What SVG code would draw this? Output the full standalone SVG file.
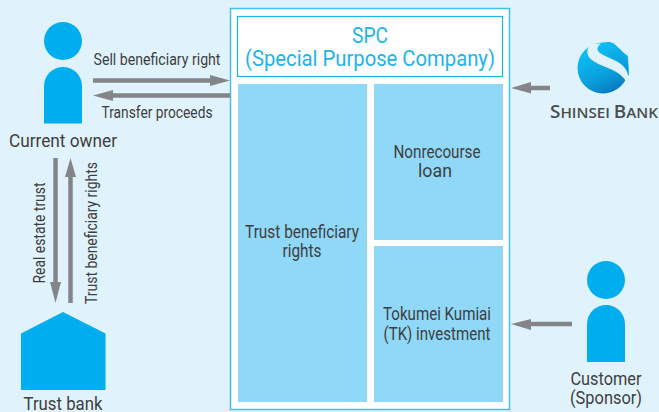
<svg xmlns="http://www.w3.org/2000/svg" width="659" height="412" viewBox="0 0 659 412">
<style>
text{font-family:"Roboto","Liberation Sans",sans-serif;fill:#3e3e40;text-anchor:middle}
.s{font-size:16px}
.m{font-size:17.500px}
.k{font-size:18.500px}
.b{font-size:22px;fill:#1cb4ec}
.l{stroke:#848589;stroke-width:4.500;fill:none}
.h{fill:#848589;stroke:none}
.p{fill:#00aeef}
.c{fill:#8fd8f8}
</style>
<defs>
<linearGradient id="g" x1="0.25" y1="0.1" x2="0.7" y2="1"><stop offset="0" stop-color="#0cc0f4"/><stop offset="0.6" stop-color="#0a9edd"/><stop offset="1" stop-color="#0878bc"/></linearGradient>
</defs>
<rect width="659" height="412" fill="#e0f3fd"/>
<g id="spc-frame"><rect x="230.500" y="8.500" width="279" height="401" fill="#fff" stroke="#3cc3f2" stroke-width="1.500"/></g>
<g id="spc"><rect x="237.500" y="16.500" width="265" height="60" fill="#fff" stroke="#1cb4ec" stroke-width="1.200"/>
<text class="b" x="370" y="42.500" textLength="36" lengthAdjust="spacingAndGlyphs">SPC</text><text class="b" x="370" y="66" textLength="250" lengthAdjust="spacingAndGlyphs">(Special Purpose Company)</text></g>
<g id="trust-rights"><rect class="c" x="238" y="84" width="129" height="318"/><text class="m" x="302" y="238" textLength="114" lengthAdjust="spacingAndGlyphs">Trust beneficiary</text><text class="m" x="302" y="257" textLength="39" lengthAdjust="spacingAndGlyphs">rights</text></g>
<g id="loan"><rect class="c" x="374" y="84" width="129" height="156"/><text class="m" x="437" y="158" textLength="87" lengthAdjust="spacingAndGlyphs">Nonrecourse</text><text class="m" x="435" y="177" textLength="34" lengthAdjust="spacingAndGlyphs">loan</text></g>
<g id="tk"><rect class="c" x="374" y="246" width="129" height="156"/><text class="m" x="437" y="320" textLength="108" lengthAdjust="spacingAndGlyphs">Tokumei Kumiai</text><text class="m" x="437" y="340" textLength="107" lengthAdjust="spacingAndGlyphs">(TK) investment</text></g>
<g id="current-owner"><circle class="p" cx="63" cy="41" r="19"/><path class="p" d="M44 123.500V86a19 19 0 0 1 38 0V123.500Z"/><text class="k" x="63" y="147" textLength="108" lengthAdjust="spacingAndGlyphs">Current owner</text></g>
<g id="trust-bank"><path class="p" d="M21 333.500L63 312L105.500 333.500V390H21Z"/><text class="k" x="63" y="410" textLength="79" lengthAdjust="spacingAndGlyphs">Trust bank</text></g>
<g id="customer"><circle class="p" cx="606" cy="280" r="19"/><path class="p" d="M587 362V324a19 19 0 0 1 38 0V362Z"/><text class="m" x="606" y="385" textLength="71" lengthAdjust="spacingAndGlyphs">Customer</text><text class="m" x="606" y="404" textLength="72" lengthAdjust="spacingAndGlyphs">(Sponsor)</text></g>
<g id="shinsei-bank"><path d="M601 44C606 41 614 41 618 48C621 52 625 53 628 56L629 76L605 60Z" fill="#0cb8ee"/><circle cx="603" cy="68" r="25.500" fill="url(#g)"/>
<path d="M590 44.500L601 43.300C597 47 596 50 600 53C607 58 618 60 624 67C628 72 628.500 76 628.500 80L626.700 82C622 75 616 71 608 68C598 64 589 60 587.500 54C587 50 588 47 590 44.500Z" fill="#e0f3fd"/>
<text x="604" y="118" style="font-family:'Open Sans','Liberation Sans',sans-serif;fill:#4d4d4f;font-weight:600;font-size:14.500px" textLength="108" lengthAdjust="spacingAndGlyphs"><tspan style="font-size:18px">S</tspan>HINSEI <tspan style="font-size:18px">B</tspan>ANK</text></g>
<g id="connectors">
<path class="l" d="M93 80.500H212"/><path class="h" d="M210 75L230 80.500L210 86Z"/>
<path class="l" d="M112 95.500H230"/><path class="h" d="M113 90L93 95.500L113 101Z"/>
<path class="l" d="M55.500 158V286"/><path class="h" d="M50 282L55.500 303L61 282Z"/>
<path class="l" d="M70.500 172V303"/><path class="h" d="M65 177L70.500 158L76 177Z"/>
<path class="l" d="M530 88H550"/><path class="h" d="M531 82L511 88L531 93.500Z"/>
<path class="l" d="M530 324H572"/><path class="h" d="M531 319L511 324L531 330Z"/>
</g>
<g id="labels">
<text class="s" x="157" y="65" textLength="127" lengthAdjust="spacingAndGlyphs">Sell beneficiary right</text>
<text class="s" x="157" y="118" textLength="111" lengthAdjust="spacingAndGlyphs">Transfer proceeds</text>
<text class="s" transform="translate(44.500 233) rotate(-90)" textLength="101" lengthAdjust="spacingAndGlyphs">Real estate trust</text>
<text class="s" transform="translate(97 233) rotate(-90)" textLength="142" lengthAdjust="spacingAndGlyphs">Trust beneficiary rights</text>
</g>
</svg>
